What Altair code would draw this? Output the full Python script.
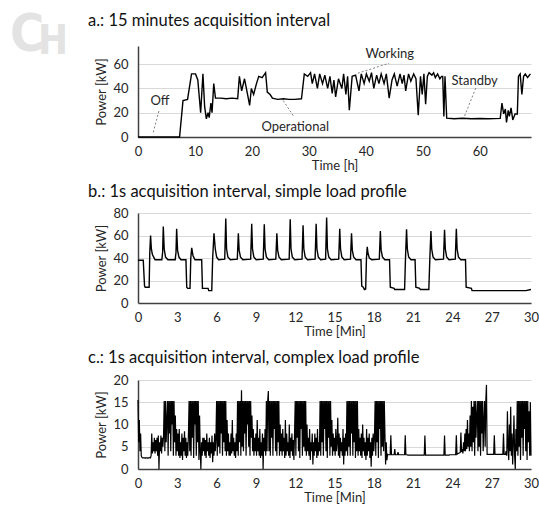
import altair as alt
import pandas as pd

FONT = "Lato"
TXT = "#262626"

# ---------------- panel a: 15 min acquisition interval ----------------
a_time = [0, 7.3, 7.9, 8.7, 9.4, 10.1, 10.5, 11.0, 11.4, 11.7,
          12.0, 12.3, 12.5, 12.8, 13.0, 13.3, 13.6, 14.5, 15.5, 16.5,
          17.5, 17.8, 18.2, 18.7, 19.2, 19.6, 19.9, 20.3, 20.8, 21.2,
          21.8, 22.4, 22.7, 23.2, 23.6, 24.5, 25.5, 26.5, 27.5, 28.7,
          29.2, 29.8, 30.3, 30.6, 31.0, 31.5, 31.9, 32.4, 32.8, 33.3,
          33.7, 34.1, 34.4, 34.7, 35.2, 35.8, 36.1, 36.5, 36.8, 37.1,
          37.6, 38.2, 38.8, 39.2, 39.7, 40.1, 40.6, 41.0, 41.4, 41.9,
          42.3, 42.7, 43.2, 43.6, 44.1, 44.6, 45.0, 45.5, 46.0, 46.4,
          46.7, 47.0, 47.5, 47.9, 48.4, 48.8, 49.2, 49.6, 49.9, 50.2,
          50.5, 50.8, 51.1, 51.6, 51.9, 52.2, 52.6, 53.0, 53.3, 53.5,
          53.7, 53.9, 54.2, 55.5, 57.0, 58.5, 60.0, 61.5, 63.6, 63.9,
          64.2, 64.5, 64.7, 65.0, 65.2, 65.5, 65.8, 66.2, 66.6, 66.8,
          67.1, 67.4, 67.7, 68.0, 68.4, 68.9]
a_power = [0, 0, 30, 31, 52, 52, 47, 20, 52, 25,
           15, 20, 16, 28, 20, 44, 32, 32, 31.5, 32,
           31.5, 50, 38, 48, 36, 26, 40, 35, 44, 50,
           49, 53, 37, 35, 32, 31, 31.5, 31, 31, 31.5,
           52, 50, 53, 44, 52, 40, 52, 44, 51, 40,
           50, 36, 47, 33, 48, 40, 52, 35, 50, 22,
           50, 51, 38, 52, 44, 52, 46, 53, 40, 51,
           44, 52, 44, 52, 32, 47, 52, 42, 52, 44,
           51, 38, 52, 46, 52, 48, 18, 50, 35, 52,
           27, 50, 53, 51, 53, 49, 52, 48, 50, 50,
           17, 50, 15.5, 15, 15.5, 15, 15.3, 15, 15.3, 28,
           19, 23, 12, 22, 17, 24, 14, 19, 19, 50,
           52, 35, 50, 52, 49, 52]

a_labels = ["Off", "Operational", "Working", "Standby"]
a_label_x = [3.85, 27.6, 44.2, 59.1]
a_label_y = [29.6, 8.2, 68.2, 46.0]
a_lead_x1 = [3.67, 25.5, 38.6, 59.3]
a_lead_y1 = [21.4, 30.0, 52.6, 40.3]
a_lead_x2 = [2.6, 27.4, 44.1, 57.2]
a_lead_y2 = [2.5, 16.5, 60.8, 15.6]

# ---------------- panel b: 1 s, simple load profile ----------------
b_time = [0, 0.4, 0.5, 0.55, 0.85, 0.9, 0.96, 1.02, 1.1, 1.3,
          1.82, 1.88, 1.93, 2.0, 2.1, 2.28, 2.84, 2.9, 2.95, 3.02,
          3.12, 3.28, 3.66, 3.72, 3.8, 3.97, 4.03, 4.1, 4.2, 4.35,
          4.86, 4.92, 5.35, 5.4, 5.63, 5.7, 5.8, 5.9, 6.0, 6.15,
          6.62, 6.7, 6.76, 6.86, 7.05,
          7.58, 7.66, 7.72, 7.82, 8.0,
          8.6, 8.68, 8.74, 8.84, 9.02,
          9.56, 9.64, 9.7, 9.8, 9.98,
          10.52, 10.6, 10.66, 10.76, 10.94,
          11.54, 11.62, 11.68, 11.78, 11.96,
          12.52, 12.6, 12.66, 12.76, 12.94,
          13.52, 13.6, 13.66, 13.76, 13.94,
          14.32, 14.4, 14.46, 14.56, 14.74,
          15.32, 15.4, 15.46, 15.56, 15.74,
          16.22, 16.3, 16.36, 16.46, 16.64,
          17.02, 17.08, 17.2, 17.28, 17.38, 17.44, 17.5, 17.56, 17.66, 17.84,
          18.42, 18.5, 18.56, 18.66, 18.84,
          19.2, 19.26, 19.55, 19.6, 20.35, 20.42, 20.5, 20.56, 20.66, 20.84,
          21.15, 21.21, 21.5, 21.55, 22.2, 22.28, 22.36, 22.42, 22.52, 22.7,
          23.32, 23.4, 23.46, 23.56, 23.74,
          24.22, 24.3, 24.36, 24.46, 24.64,
          25.0, 25.05, 25.45, 25.5, 29.6, 30.0]
b_power = [38, 38, 15, 14, 14, 45, 60, 48, 43, 38.5,
           38.5, 45, 68, 48, 41, 38.5, 38.5, 45, 66, 47,
           41, 38.5, 38.5, 14, 13, 13, 40, 49, 42, 38.5,
           38.5, 13, 13, 11, 11, 40, 62, 48, 41, 38.5,
           39, 75, 48, 41, 38.5,
           39, 62, 47, 41, 38.5,
           39, 70.5, 48, 41, 38.5,
           39, 70, 48, 41, 38.5,
           39, 62, 47, 41, 38.5,
           39, 74.5, 48, 41, 38.5,
           39, 69, 48, 41, 38.5,
           39, 70.5, 48, 41, 38.5,
           39, 76, 48, 41, 38.5,
           39, 66, 48, 41, 38.5,
           39, 62, 47, 41, 38.5,
           38.5, 15, 14, 12, 12.5, 40, 50, 44, 40, 38.5,
           39, 64, 47, 41, 38.5,
           38.5, 14, 13, 12, 12, 40, 65.5, 48, 41, 38.5,
           38.5, 14, 13, 12, 12, 40, 64, 48, 41, 38.5,
           39, 65, 48, 41, 38.5,
           39, 66, 48, 41, 38.5,
           38.5, 14, 13, 11, 11, 12]

# ---------------- panel c: 1 s, complex load profile (3 s samples, one row per minute) ----------------
c_minutes = [
    [15.5, 6, 11, 4, 8, 3, 2.6, 2.5, 2.5, 2.5, 2.5, 2.4, 2.5, 2.5, 2.5, 2.4, 2.5, 2.5, 2.6, 2.5],
    [3, 8, 3.5, 6, 4, 7, 3.5, 6.5, 4, 7, 3, 7.5, 0, 6, 4, 7.5, 3.5, 7, 5, 7.5],
    [15.3, 4, 15.3, 6, 11, 15.3, 3, 15.3, 8, 15.3, 4, 15.3, 10, 15.3, 3, 15.3, 6, 12, 3, 9],
    [4, 8, 3, 9, 2.5, 6, 3, 8, 2, 7, 4, 8.5, 3, 7, 2.5, 6, 3, 8, 15.3, 4],
    [15.3, 3, 15.3, 7, 15.3, 2.5, 15.3, 10, 15.3, 3, 15.3, 6, 15.3, 2, 12, 4, 0, 6, 3, 7],
    [4, 7, 3, 6.5, 2.5, 8, 4, 6, 3, 7, 2.5, 6, 3.5, 7.5, 1.5, 6, 3, 8, 4, 7],
    [15.3, 3, 15.3, 5, 15.3, 3.5, 15.3, 8, 15.3, 3, 15.3, 6, 15.3, 4, 15.3, 3, 11, 4, 8, 3],
    [6, 3, 8, 3.5, 11, 4, 7, 3, 6, 2.5, 8, 4, 15.3, 3, 15.3, 6, 15.3, 3, 17.7, 5],
    [15.3, 4, 15.3, 8, 15.3, 3, 15.3, 10, 15.3, 5, 15.3, 3, 15.3, 7, 12, 4, 9, 3, 7, 4],
    [8, 3, 11, 4, 7, 3, 9, 2.5, 6, 3, 8, 0, 7, 4, 9, 3, 15.3, 4, 15.3, 17.5],
    [4, 15.3, 3, 15.3, 7, 15.3, 3, 15.3, 9, 15.3, 4, 15.3, 3, 15.3, 6, 15.3, 3, 10, 4, 8],
    [3, 9, 4, 7, 2.5, 11, 3, 8, 4, 6, 3, 10, 2.5, 7, 4, 8, 3, 6.5, 2, 8],
    [15.3, 3, 15.3, 7, 15.3, 4, 15.3, 2.5, 15.3, 9, 15.3, 3, 15.3, 5, 15.3, 4, 15.3, 3, 10, 4],
    [7, 3, 9, 2, 6, 4, 8, 1, 6, 3, 8, 4, 7, 2.5, 9, 3, 6, 4, 15.3, 3],
    [15.3, 6, 15.3, 3, 15.3, 9, 15.3, 4, 15.3, 2.5, 15.3, 7, 15.3, 3, 15.3, 5, 11, 3, 8, 4],
    [7, 3, 9, 4, 6, 11.5, 3, 8, 2.5, 7, 4, 6, 3, 9, 1, 7, 3, 8, 4, 15.3],
    [3, 15.3, 5, 15.3, 3, 15.3, 8, 15.3, 3, 15.3, 6, 15.3, 2.5, 15.3, 4, 15.3, 3, 9, 4, 7],
    [3, 8, 2.5, 10, 4, 7, 3, 6, 2, 9, 3, 7, 4, 8, 2.5, 6, 0.5, 7, 3, 8],
    [4, 7, 15.3, 3, 15.3, 6, 15.3, 2.5, 15.3, 9, 15.3, 3, 15.3, 5, 15.3, 4, 15.3, 8, 1, 6],
    [2, 3.3, 3.2, 3.2, 3.2, 3.2, 7.6, 3.2, 3.2, 3.2, 3.2, 3.2, 4.5, 3.2, 3.2, 3.2, 3.2, 3.8, 3.2, 3.2],
    [3.2, 3.2, 3.2, 3.2, 3.2, 3.2, 3.2, 3.2, 7.6, 3.2, 3.2, 3.2, 3.1, 3.1, 3.1, 3.1, 3.1, 3.1, 3.1, 3.1],
    [3.1, 3.1, 3.1, 3.1, 3.1, 3.1, 3.1, 3.1, 3.1, 3.1, 3.1, 3.1, 3.1, 3.1, 3.1, 3.1, 3.1, 3.1, 7.5, 3.1],
    [3.1, 3.1, 3.1, 3.1, 3.1, 3.1, 3.1, 3.1, 3.1, 3.1, 3.1, 3.1, 3.1, 3.1, 3.1, 3.1, 3.1, 3.1, 3.1, 3.1],
    [3.1, 3.1, 3.1, 3.1, 3.1, 3.1, 3.1, 3.1, 7.5, 3.1, 3.1, 3.1, 3.1, 3.1, 3.1, 3.1, 3.2, 3.2, 3.2, 3.2],
    [3.2, 3.2, 3.2, 3.2, 3.2, 3.2, 7.6, 3.3, 3.4, 3.5, 3.6, 3.6, 3.7, 8.2, 3.8, 4.5, 3.5, 6, 4, 8],
    [4, 9, 4.5, 11, 5, 8, 4, 12, 5, 15.3, 4, 14, 6, 15.3, 3, 15.3, 7, 12, 15.3, 4],
    [15.3, 5, 15.3, 3, 15.3, 8, 15.3, 4, 11, 15.3, 5, 15.3, 18.9, 3.3, 3.3, 3.3, 3.3, 3.3, 3.3, 3.3],
    [3.3, 3.3, 3.3, 3.3, 7.6, 3.3, 3.3, 3.3, 3.3, 3.3, 3.3, 3.3, 3.3, 3.3, 3.3, 3.3, 3.3, 3.3, 8, 3.3],
    [3.3, 3.3, 4, 3, 13, 5, 2, 10, 4, 14, 3, 8, 1, 6, 12, 3, 0, 9, 4, 15.3],
    [3, 15.3, 5, 15.3, 2, 15.3, 7, 15.3, 3, 15.3, 9, 15.3, 4, 15.3, 2, 15.3, 6, 13, 3, 15],
    [3],
]
c_step_min = 0.05  # 3-second sample interval

c_power = [v for minute in c_minutes for v in minute]
c_time = [round(i * c_step_min, 3) for i in range(len(c_power))]

titles = ["a.: 15 minutes acquisition interval",
          "b.: 1s acquisition interval, simple load profile",
          "c.: 1s acquisition interval, complex load profile"]

# ---------------- layout / style ----------------
W = 393
WM_X = -128          # watermark left, relative to plot left
TITLE_X = -50        # panel titles left, relative to plot left
WM_FONT = "Liberation Sans Narrow, DejaVu Sans Condensed, Liberation Sans"


def px_text(txt, x, y, size, color, baseline="middle", weight="normal", font=FONT, opacity=1):
    return alt.Chart(pd.DataFrame({"s": [txt]})).mark_text(
        font=font, fontSize=size, color=color, align="left", baseline=baseline,
        fontWeight=weight, opacity=opacity
    ).encode(text="s:N", x=alt.value(x), y=alt.value(y))


def enc(xdom, xvals, xtitle, ydom, yvals):
    def X(field):
        return alt.X(field, scale=alt.Scale(domain=xdom, nice=False, zero=False),
                     axis=alt.Axis(values=xvals, title=xtitle, grid=False, ticks=False,
                                   labelFlush=False, labelOverlap=False, labelPadding=8,
                                   titlePadding=1, format="d"))

    def Y(field):
        return alt.Y(field, scale=alt.Scale(domain=ydom, nice=False, zero=False),
                     axis=alt.Axis(values=yvals, title="Power [kW]", grid=True, ticks=False,
                                   labelOverlap=False, labelPadding=10, titlePadding=4,
                                   format="d"))
    return X, Y


a_df = pd.DataFrame({"t": a_time, "p": a_power})
b_df = pd.DataFrame({"t": b_time, "p": b_power})
c_df = pd.DataFrame({"t": c_time, "p": c_power})

# panel a
Xa, Ya = enc([0, 69], [0, 10, 20, 30, 40, 50, 60], "Time [h]", [0, 75], [0, 20, 40, 60])
a_line = alt.Chart(a_df).mark_line(color="#000000", strokeWidth=1.4).encode(x=Xa("t:Q"), y=Ya("p:Q"))
lab_df = pd.DataFrame({"lab": a_labels, "x": a_label_x, "y": a_label_y,
                       "x1": a_lead_x1, "y1": a_lead_y1, "x2": a_lead_x2, "y2": a_lead_y2})
leaders = alt.Chart(lab_df).mark_rule(color="#808080", strokeDash=[2, 2], strokeWidth=1).encode(
    x=Xa("x1:Q"), y=Ya("y1:Q"), x2="x2:Q", y2="y2:Q")
ann = alt.Chart(lab_df).mark_text(font=FONT, fontSize=13, color=TXT).encode(
    x=Xa("x:Q"), y=Ya("y:Q"), text="lab:N")
chart_a = alt.layer(
    px_text("C", WM_X, 16, 52, "#e3e3e3", baseline="bottom", weight="bold", font=WM_FONT),
    px_text("H", WM_X + 28, 16, 40, "#e3e3e3", baseline="bottom", weight="bold", font=WM_FONT),
    px_text(titles[0], TITLE_X, -25, 16.5, "#111111"),
    a_line, leaders, ann,
).properties(width=W, height=91)

# panel b
Xb, Yb = enc([0, 30], list(range(0, 31, 3)), "Time [Min]", [0, 80], [0, 20, 40, 60, 80])
b_line = alt.Chart(b_df).mark_line(color="#000000", strokeWidth=1.4).encode(x=Xb("t:Q"), y=Yb("p:Q"))
chart_b = alt.layer(
    px_text("C", WM_X, 40, 13, "#ffffff", opacity=0),
    px_text(titles[1], TITLE_X, -21, 16.5, "#111111"),
    b_line,
).properties(width=W, height=90)

# panel c
Xc, Yc = enc([0, 30], list(range(0, 31, 3)), "Time [Min]", [0, 20], [0, 5, 10, 15, 20])
c_line = alt.Chart(c_df).mark_line(color="#000000", strokeWidth=1.2).encode(x=Xc("t:Q"), y=Yc("p:Q"))
chart_c = alt.layer(
    px_text("C", WM_X, 40, 13, "#ffffff", opacity=0),
    px_text(titles[2], TITLE_X, -22, 16.5, "#111111"),
    c_line,
).properties(width=W, height=89)

chart = alt.vconcat(chart_a, chart_b, chart_c, spacing=12).properties(
    padding={"left": 10, "top": 9, "right": 0, "bottom": 0}
).configure_view(stroke=None).configure_axis(
    labelFont=FONT, labelFontSize=13, labelColor=TXT,
    titleFont=FONT, titleFontSize=13, titleFontWeight="normal", titleColor=TXT,
    domainColor="#404040", domainWidth=1.5, gridColor="#d9d9d9", gridWidth=1,
)

chart.save("out.html", embed_options={"renderer": "svg", "actions": False})
